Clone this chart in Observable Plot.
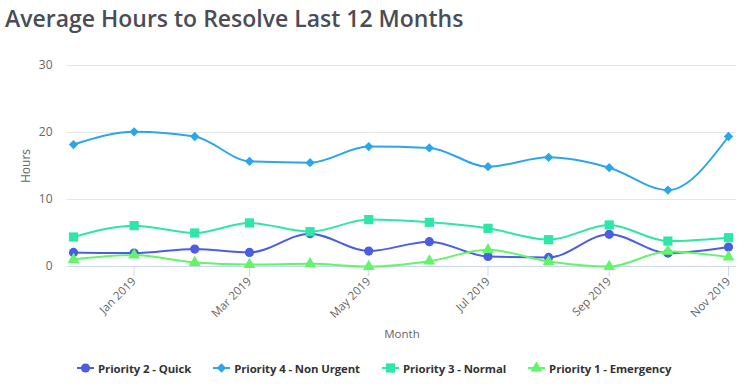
<!DOCTYPE html>
<html>
<head>
<meta charset="utf-8">
<script src="https://cdn.jsdelivr.net/npm/d3@7"></script>
<script src="https://cdn.jsdelivr.net/npm/@observablehq/plot@0.6"></script>
<style>
  body { margin: 0; background: #fff; font-family: "Open Sans", sans-serif; }
  #wrap { width: 747px; height: 390px; position: relative; overflow: hidden; }
  #title { height: 40px; line-height: 36px; padding-left: 5px; font-size: 23px; font-weight: 600; color: #4a4d55; white-space: nowrap; }
  #chart svg { display: block; }
  #legend { height: 36px; display: flex; align-items: center; padding-left: 77px; font-size: 11.4px; font-weight: 700; color: #333; letter-spacing: -0.1px; }
  .item { display: flex; align-items: center; margin-right: 22px; }
  .item svg { margin-right: 4px; }
</style>
</head>
<body>
<div id="wrap">
  <div id="title">Average Hours to Resolve Last 12 Months</div>
  <div id="chart"></div>
  <div id="legend"></div>
</div>
<script>
const months = ["2018-12-01","2019-01-01","2019-02-01","2019-03-01","2019-04-01","2019-05-01","2019-06-01","2019-07-01","2019-08-01","2019-09-01","2019-10-01","2019-11-01"];
const seriesNames = ["Priority 2 - Quick","Priority 4 - Non Urgent","Priority 3 - Normal","Priority 1 - Emergency"];
const quick     = [2.1, 2.0, 2.6, 2.1, 4.9, 2.3, 3.7, 1.5, 1.35, 4.8, 2.0, 2.9];
const nonUrgent = [18.2, 20.1, 19.4, 15.7, 15.5, 17.9, 17.7, 14.9, 16.3, 14.75, 11.4, 19.4];
const normal    = [4.4, 6.1, 5.0, 6.5, 5.2, 7.0, 6.6, 5.7, 4.0, 6.2, 3.8, 4.3];
const emergency = [1.05, 1.7, 0.6, 0.3, 0.4, 0.0, 0.8, 2.5, 0.75, 0.0, 2.25, 1.4];
const yTicks = [0, 10, 20, 30];
const xTickLabels = ["2019-01-01","2019-03-01","2019-05-01","2019-07-01","2019-09-01","2019-11-01"];

const colors = ["#4a5ee3", "#2ca6ea", "#2ee6a6", "#62f56a"];
const symbols = ["circle", "diamond2", "square", "triangle"];
const sizes = [4.6, 4.2, 5.2, 4.4];
const values = [quick, nonUrgent, normal, emergency];

const parse = d3.utcParse("%Y-%m-%d");
const dates = months.map(parse);
const xTicks = xTickLabels.map(parse);

const marks = [
  Plot.gridY(yTicks.filter(d => d > 0), {stroke: "#e6e6e6", strokeOpacity: 1}),
  Plot.ruleY([0], {stroke: "#ccd6eb"}),
  Plot.axisY({ticks: yTicks, tickSize: 0, tickPadding: 15, fill: "#666", fontSize: 12, label: "Hours", labelAnchor: "center", labelArrow: "none", labelOffset: 46}),
  Plot.axisX({ticks: xTicks, tickSize: 10, stroke: "#ccd6eb", strokeOpacity: 1, text: null, label: null}),
  Plot.axisX({ticks: xTicks, tickSize: 0, tickPadding: 13, tickRotate: -45, tickFormat: d3.utcFormat("%b %Y"), fill: "#666", fontSize: 11.5, label: "Month", labelAnchor: "center", labelArrow: "none", labelOffset: 71})
];
seriesNames.forEach((name, i) => {
  const data = dates.map((d, j) => ({date: d, value: values[i][j], series: name}));
  marks.push(Plot.line(data, {x: "date", y: "value", stroke: colors[i], strokeWidth: 2, curve: "monotone-x"}));
  marks.push(Plot.dot(data, {x: "date", y: "value", fill: colors[i], stroke: "none", symbol: symbols[i], r: sizes[i]}));
});

const chart = Plot.plot({
  width: 747,
  height: 310,
  marginLeft: 67,
  marginRight: 11,
  insetLeft: 6,
  insetRight: 8,
  marginTop: 25,
  marginBottom: 84,
  style: {fontFamily: "Open Sans, sans-serif", fontSize: "12px", color: "#666", background: "transparent"},
  x: {type: "utc", domain: [dates[0], dates[dates.length - 1]]},
  y: {domain: [0, 30]},
  marks
});
document.getElementById("chart").appendChild(chart);

const legend = document.getElementById("legend");
const symMap = {circle: d3.symbolCircle, diamond2: d3.symbolDiamond2, square: d3.symbolSquare, triangle: d3.symbolTriangle};
seriesNames.forEach((name, i) => {
  const item = document.createElement("div");
  item.className = "item";
  const sw = d3.create("svg").attr("width", 17).attr("height", 12);
  sw.append("line").attr("x1", 0).attr("x2", 17).attr("y1", 6).attr("y2", 6).attr("stroke", colors[i]).attr("stroke-width", 2);
  sw.append("path").attr("transform", "translate(8.5,6)").attr("d", d3.symbol(symMap[symbols[i]], Math.PI * sizes[i] * sizes[i])()).attr("fill", colors[i]);
  item.appendChild(sw.node());
  const t = document.createElement("span");
  t.textContent = name;
  item.appendChild(t);
  legend.appendChild(item);
});
</script>
</body>
</html>
